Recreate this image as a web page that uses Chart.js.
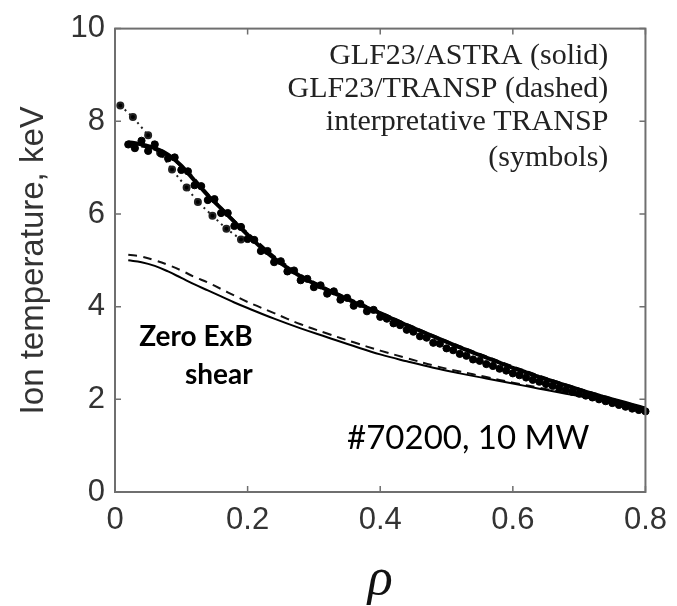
<!DOCTYPE html>
<html>
<head>
<meta charset="utf-8">
<script src="https://cdn.jsdelivr.net/npm/chart.js@4/dist/chart.umd.min.js"></script>
<style>
    html, body { margin: 0; padding: 0; background: #fff; }
    #wrap { width: 677px; height: 606px; }
</style>
</head>
<body>
<div id="wrap"><canvas id="tiChart" width="677" height="606"></canvas></div>
<script>
// Axis ticks
const xTicks = [0, 0.2, 0.4, 0.6, 0.8];
const yTicks = [0, 2, 4, 6, 8, 10];

// GLF23/ASTRA (solid), with ExB shear
const astraRho = [0.02, 0.04, 0.06, 0.08, 0.10, 0.12, 0.14, 0.16, 0.18, 0.20, 0.22, 0.24, 0.26, 0.28, 0.30, 0.32, 0.34, 0.36, 0.38, 0.40, 0.42, 0.44, 0.46, 0.48, 0.50, 0.52, 0.54, 0.56, 0.58, 0.60, 0.62, 0.64, 0.66, 0.68, 0.70, 0.72, 0.74, 0.76, 0.78, 0.80];
const astraTi = [7.55, 7.5, 7.42, 7.28, 7.04, 6.72, 6.4, 6.12, 5.83, 5.55, 5.28, 5.04, 4.84, 4.65, 4.5, 4.36, 4.23, 4.1, 3.98, 3.86, 3.73, 3.6, 3.48, 3.36, 3.24, 3.12, 3.01, 2.9, 2.79, 2.68, 2.58, 2.48, 2.39, 2.3, 2.21, 2.12, 2.04, 1.96, 1.88, 1.8];

// GLF23/TRANSP (dashed), with ExB shear
const transpRho = [0.02, 0.05, 0.08, 0.11, 0.14, 0.17, 0.20, 0.24, 0.28, 0.32, 0.36, 0.40, 0.45, 0.50, 0.55, 0.60, 0.65, 0.70, 0.75, 0.80];
const transpTi = [7.5, 7.44, 7.26, 6.9, 6.42, 5.98, 5.58, 5.08, 4.68, 4.38, 4.12, 3.87, 3.55, 3.25, 2.97, 2.7, 2.45, 2.22, 2.0, 1.8];

// interpretative TRANSP (symbols)
const symRho = [
    0.02, 0.03, 0.04, 0.05, 0.06, 0.07, 0.08, 0.09, 0.10, 0.11,
    0.12, 0.13, 0.14, 0.15, 0.16, 0.17, 0.18, 0.19, 0.20, 0.21,
    0.22, 0.23, 0.24, 0.25, 0.26, 0.27, 0.28, 0.29, 0.30, 0.31,
    0.32, 0.33, 0.34, 0.35, 0.36, 0.37, 0.38, 0.39, 0.40, 0.41,
    0.42, 0.43, 0.44, 0.45, 0.46, 0.47, 0.48, 0.49, 0.50, 0.51,
    0.52, 0.53, 0.54, 0.55, 0.56, 0.57, 0.58, 0.59, 0.60, 0.61,
    0.62, 0.63, 0.64, 0.65, 0.66, 0.67, 0.68, 0.69, 0.70, 0.71,
    0.72, 0.73, 0.74, 0.75, 0.76, 0.77, 0.78, 0.79, 0.80
];
const symTi = [
    7.5, 7.42, 7.58, 7.36, 7.5, 7.3, 7.2, 7.22, 6.95, 6.92,
    6.62, 6.6, 6.3, 6.32, 6.02, 6.02, 5.74, 5.72, 5.46, 5.44,
    5.2, 5.2, 4.96, 4.98, 4.76, 4.78, 4.57, 4.6, 4.42, 4.46,
    4.28, 4.33, 4.15, 4.19, 4.02, 4.06, 3.9, 3.93, 3.78, 3.74,
    3.64, 3.6, 3.5, 3.46, 3.36, 3.33, 3.22, 3.2, 3.1, 3.06,
    2.98, 2.94, 2.86, 2.83, 2.76, 2.72, 2.66, 2.62, 2.56, 2.52,
    2.47, 2.42, 2.38, 2.33, 2.29, 2.25, 2.2, 2.16, 2.12, 2.08,
    2.04, 2.0, 1.96, 1.92, 1.88, 1.84, 1.8, 1.77, 1.74
];

// interpretative TRANSP core points (sparse dotted trail)
const coreRho = [0.008, 0.027, 0.05, 0.068, 0.086, 0.108, 0.125, 0.147, 0.168, 0.19];
const coreTi = [8.34, 8.09, 7.7, 7.32, 6.96, 6.57, 6.26, 5.96, 5.68, 5.45];

// Zero ExB shear: GLF23/ASTRA (solid)
const zeroAstraRho = [0.02, 0.04, 0.06, 0.08, 0.10, 0.12, 0.14, 0.16, 0.18, 0.20, 0.24, 0.28, 0.32, 0.36, 0.40, 0.44, 0.48, 0.52, 0.56, 0.60, 0.64, 0.68, 0.72, 0.76, 0.80];
const zeroAstraTi = [5.0, 4.96, 4.88, 4.76, 4.62, 4.48, 4.35, 4.22, 4.09, 3.97, 3.74, 3.53, 3.34, 3.15, 2.97, 2.82, 2.68, 2.56, 2.45, 2.34, 2.23, 2.12, 2.02, 1.92, 1.82];

// Zero ExB shear: GLF23/TRANSP (dashed)
const zeroTranspRho = [0.02, 0.04, 0.06, 0.08, 0.10, 0.12, 0.14, 0.16, 0.18, 0.20, 0.24, 0.28, 0.32, 0.36, 0.40, 0.44, 0.48, 0.52, 0.56, 0.60, 0.64, 0.68, 0.72, 0.76, 0.80];
const zeroTranspTi = [5.12, 5.08, 5.0, 4.9, 4.78, 4.64, 4.52, 4.38, 4.24, 4.1, 3.86, 3.62, 3.42, 3.23, 3.05, 2.89, 2.73, 2.6, 2.48, 2.36, 2.25, 2.14, 2.03, 1.92, 1.82];

// Legend text lines and annotations (data coordinates)
const legendLines = ['GLF23/ASTRA (solid)', 'GLF23/TRANSP (dashed)', 'interpretative TRANSP', '(symbols)'];
const legendTi = [9.4, 8.7, 7.98, 7.21];
const legendRho = 0.744;

// Build {x, y} points from two arrays
function toPoints(xs, ys) {
    return xs.map((x, i) => ({ x: x, y: ys[i] }));
}

// Box frame with inward tick marks on all four sides
const framePlugin = {
    id: 'frame',
    afterDatasetsDraw(chart) {
        const ctx = chart.ctx;
        const a = chart.chartArea;
        const xs = chart.scales.x;
        const ys = chart.scales.y;
        ctx.save();
        ctx.strokeStyle = '#6f6f6f';
        ctx.lineWidth = 2;
        ctx.strokeRect(a.left, a.top, a.right - a.left, a.bottom - a.top);
        ctx.lineWidth = 1.5;
        ctx.beginPath();
        xTicks.forEach(v => {
            const px = xs.getPixelForValue(v);
            ctx.moveTo(px, a.bottom); ctx.lineTo(px, a.bottom - 6);
            ctx.moveTo(px, a.top); ctx.lineTo(px, a.top + 6);
        });
        yTicks.forEach(v => {
            const py = ys.getPixelForValue(v);
            ctx.moveTo(a.left, py); ctx.lineTo(a.left + 6, py);
            ctx.moveTo(a.right, py); ctx.lineTo(a.right - 6, py);
        });
        ctx.stroke();
        ctx.restore();
    }
};

// Text annotations inside the plot
const notesPlugin = {
    id: 'notes',
    afterDraw(chart) {
        const ctx = chart.ctx;
        const xs = chart.scales.x;
        const ys = chart.scales.y;
        ctx.save();
        ctx.fillStyle = '#222';
        ctx.textBaseline = 'middle';
        ctx.textAlign = 'right';
        ctx.font = '30px "Liberation Serif"';
        legendLines.forEach((t, i) => {
            ctx.fillText(t, xs.getPixelForValue(legendRho), ys.getPixelForValue(legendTi[i]));
        });

        ctx.fillStyle = '#000';
        ctx.font = 'bold 28px Lato';
        ctx.fillText('Zero ExB', xs.getPixelForValue(0.2075), ys.getPixelForValue(3.34));
        ctx.fillText('shear', xs.getPixelForValue(0.2075), ys.getPixelForValue(2.53));

        ctx.textAlign = 'left';
        ctx.font = '33px Lato';
        ctx.fillText('#70200, 10 MW', xs.getPixelForValue(0.35), ys.getPixelForValue(1.15));
        ctx.restore();
    }
};

const ctx = document.getElementById('tiChart').getContext('2d');
const chart = new Chart(ctx, {
    type: 'scatter',
    data: {
        datasets: [
            {
                label: 'GLF23/ASTRA',
                data: toPoints(astraRho, astraTi),
                showLine: true,
                borderColor: '#000',
                borderWidth: 4,
                pointRadius: 0,
                tension: 0.3
            },
            {
                label: 'GLF23/TRANSP',
                data: toPoints(transpRho, transpTi),
                showLine: true,
                borderColor: '#000',
                borderWidth: 3,
                borderDash: [8, 5],
                pointRadius: 0,
                tension: 0.3
            },
            {
                label: 'interpretative TRANSP',
                data: toPoints(symRho, symTi),
                showLine: false,
                backgroundColor: '#000',
                borderColor: '#000',
                pointRadius: 3.6
            },
            {
                label: 'interpretative TRANSP core',
                data: toPoints(coreRho, coreTi),
                showLine: true,
                borderColor: '#222',
                borderWidth: 2,
                borderDash: [2, 4],
                backgroundColor: '#000',
                pointRadius: 3
            },
            {
                label: 'Zero ExB GLF23/ASTRA',
                data: toPoints(zeroAstraRho, zeroAstraTi),
                showLine: true,
                borderColor: '#000',
                borderWidth: 2,
                pointRadius: 0,
                tension: 0.4
            },
            {
                label: 'Zero ExB GLF23/TRANSP',
                data: toPoints(zeroTranspRho, zeroTranspTi),
                showLine: true,
                borderColor: '#111',
                borderWidth: 2,
                borderDash: [9, 6],
                pointRadius: 0,
                tension: 0.4
            }
        ]
    },
    options: {
        responsive: false,
        animation: false,
        clip: false,
        layout: { padding: { left: 0, top: 23, right: 31, bottom: 0 } },
        plugins: {
            legend: { display: false },
            tooltip: { enabled: false }
        },
        scales: {
            x: {
                type: 'linear',
                min: 0,
                max: 0.8,
                afterBuildTicks: function(scale) {
                    scale.ticks = xTicks.map(v => ({ value: v }));
                },
                afterFit: function(scale) {
                    scale.height = 114;
                },
                ticks: {
                    color: '#333',
                    padding: 10,
                    font: { family: 'Liberation Sans', size: 31 },
                    callback: v => v === 0 ? '0' : v.toFixed(1)
                },
                grid: { drawOnChartArea: false, drawTicks: false },
                border: { display: false },
                title: {
                    display: true,
                    text: 'ρ',
                    color: '#111',
                    font: { family: 'Liberation Serif', size: 52, style: 'italic', lineHeight: 1 },
                    padding: { top: 0, bottom: 0 }
                }
            },
            y: {
                type: 'linear',
                min: 0,
                max: 10,
                afterBuildTicks: function(scale) {
                    scale.ticks = yTicks.map(v => ({ value: v }));
                },
                afterFit: function(scale) {
                    scale.width = 115;
                },
                ticks: {
                    color: '#333',
                    padding: 10,
                    font: { family: 'Liberation Sans', size: 31 }
                },
                grid: { drawOnChartArea: false, drawTicks: false },
                border: { display: false },
                title: {
                    display: true,
                    text: 'Ion temperature, keV',
                    color: '#333',
                    font: { family: 'Liberation Sans', size: 33 },
                    padding: { top: 14, bottom: 0 }
                }
            }
        }
    },
    plugins: [framePlugin, notesPlugin]
});
</script>
</body>
</html>
